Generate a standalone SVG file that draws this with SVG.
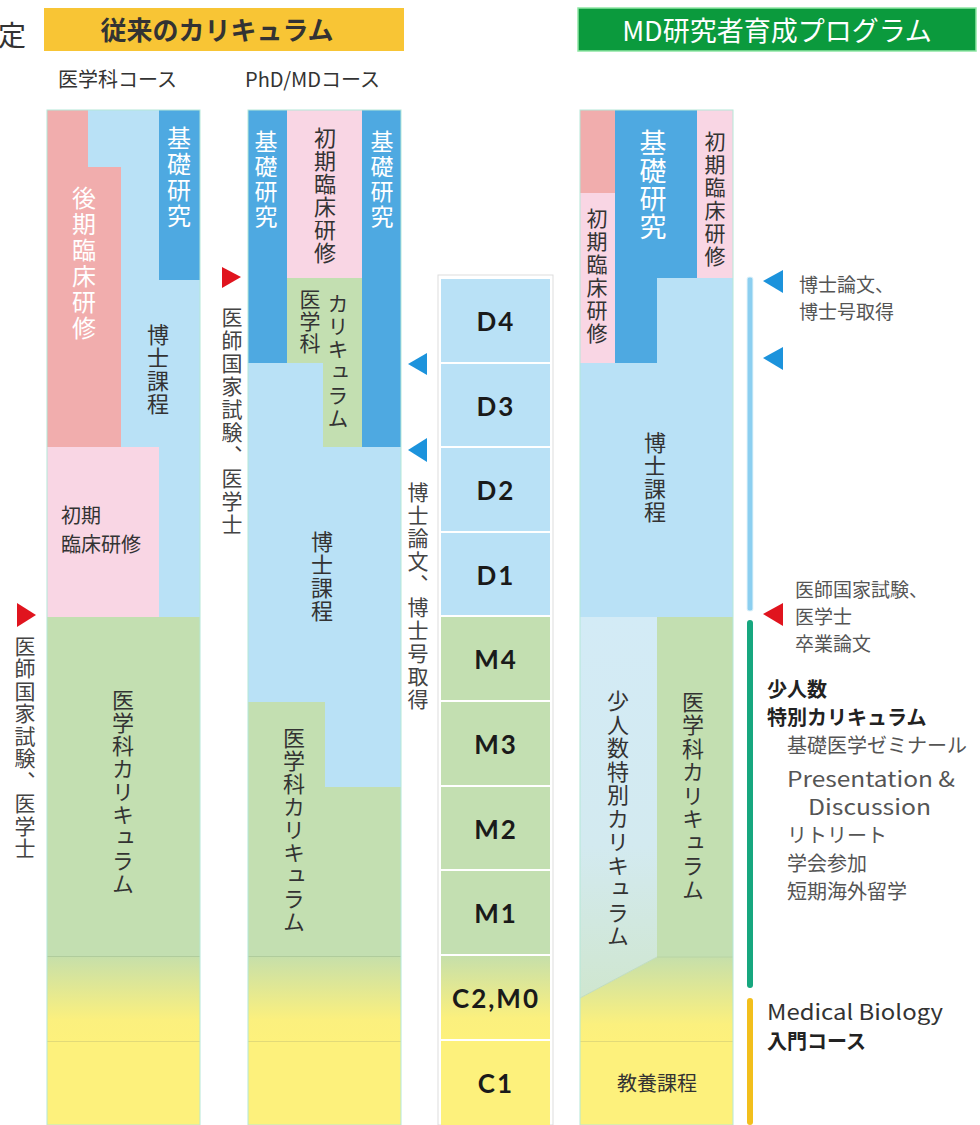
<svg xmlns="http://www.w3.org/2000/svg" width="980" height="1125" viewBox="0 0 980 1125">
<style>
.j{font-family:"Noto Sans CJK JP","Noto Sans",sans-serif;fill:#333}
.v{font-family:"Noto Sans CJK JP",sans-serif;writing-mode:vertical-rl;text-anchor:middle;fill:#333}
.w{fill:#fff}
.g{fill:#555}
.lb{fill:#b9e1f6}.db{fill:#4ea9e1}.sp{fill:#f1adad}.lp{fill:#f9d6e4}.gr{fill:#c3dfb1}.ye{fill:#fdf17c}
.yl{stroke:#e2da78;stroke-width:1}.gl{stroke:#b0cc9c;stroke-width:1}
.bd{fill:none;stroke:#b4e8d8;stroke-width:1}
.yr{font-family:"Lato","Noto Sans",sans-serif;font-weight:700;font-size:26px;text-anchor:middle;fill:#1a1a1a;letter-spacing:2px}
.tri{fill:#1c93dc}.trr{fill:#e0141e}
</style>
<defs>
<linearGradient id="gy" x1="0" y1="0" x2="0" y2="1">
<stop offset="0" stop-color="#c6dfaa"/><stop offset="0.75" stop-color="#fbf07e"/><stop offset="1" stop-color="#fdf17c"/>
</linearGradient>
<linearGradient id="gy3" gradientUnits="userSpaceOnUse" x1="0" y1="957" x2="0" y2="1041">
<stop offset="0" stop-color="#c6dfaa"/><stop offset="0.8" stop-color="#fbf07e"/><stop offset="1" stop-color="#fdf17c"/>
</linearGradient>
<linearGradient id="gl3" gradientUnits="userSpaceOnUse" x1="0" y1="617" x2="0" y2="998">
<stop offset="0" stop-color="#d3ebf6"/><stop offset="0.6" stop-color="#d3eaf0"/><stop offset="1" stop-color="#cfe6cf"/>
</linearGradient>
</defs>

<text class="j" x="-2" y="46" font-size="28" fill="#111">定</text>

<g id="header-conventional">
<rect x="44" y="8" width="360" height="43" fill="#f8c535"/>
<text class="j" x="217" y="40" font-size="26" font-weight="700" text-anchor="middle" fill="#222">従来のカリキュラム</text>
</g>
<g id="header-md">
<rect x="578" y="8" width="398" height="43" fill="#0b9a3d" stroke="#8fe6a4" stroke-width="1.5"/>
<text class="j" x="777" y="41" font-size="27" text-anchor="middle" fill="#fff" style="fill:#fff">MD研究者育成プログラム</text>
</g>
<text class="j" x="58" y="87" font-size="20">医学科コース</text>
<text class="j" x="245" y="87" font-size="20">PhD/MDコース</text>

<g id="col-igakuka">
<rect class="lb" x="47" y="110" width="153" height="507"/>
<polygon class="sp" points="47,110 88,110 88,167 121,167 121,447 47,447"/>
<rect class="db" x="159" y="110" width="41" height="170"/>
<rect class="lp" x="47" y="447" width="112" height="170"/>
<rect class="gr" x="47" y="617" width="153" height="339"/>
<rect x="47" y="956" width="153" height="85" fill="url(#gy)"/>
<rect class="ye" x="47" y="1041" width="153" height="84"/>
<line class="gl" x1="47" y1="956.5" x2="200" y2="956.5"/>
<line class="yl" x1="47" y1="1041.5" x2="200" y2="1041.5"/>
<rect class="bd" x="47" y="110" width="153" height="1015"/>
<text class="v w" x="84" y="264" font-size="24" letter-spacing="2" style="fill:#fff">後期臨床研修</text>
<text class="v w" x="179" y="178" font-size="24" letter-spacing="2" style="fill:#fff">基礎研究</text>
<text class="v" x="158" y="370" font-size="22" letter-spacing="1">博士課程</text>
<text class="j" x="61" y="523" font-size="20">初期</text>
<text class="j" x="61" y="552" font-size="20">臨床研修</text>
<text class="v" x="123" y="792" font-size="22" letter-spacing="1">医学科カリキュラム</text>
</g>

<g id="col-phdmd">
<rect class="lb" x="248" y="110" width="153" height="677"/>
<rect class="db" x="248" y="110" width="39" height="253"/>
<rect class="lp" x="287" y="110" width="75" height="168"/>
<rect class="db" x="362" y="110" width="39" height="337"/>
<polygon class="gr" points="287,278 362,278 362,447 323,447 323,363 287,363"/>
<polygon class="gr" points="248,702 325,702 325,787 401,787 401,956 248,956"/>
<rect x="248" y="956" width="153" height="85" fill="url(#gy)"/>
<rect class="ye" x="248" y="1041" width="153" height="84"/>
<line class="gl" x1="248" y1="956.5" x2="401" y2="956.5"/>
<line class="yl" x1="248" y1="1041.5" x2="401" y2="1041.5"/>
<rect class="bd" x="248" y="110" width="153" height="1015"/>
<text class="v" x="266" y="180" font-size="23" letter-spacing="2" style="fill:#fff">基礎研究</text>
<text class="v" x="325" y="196" font-size="22" letter-spacing="1">初期臨床研修</text>
<text class="v" x="382" y="180" font-size="23" letter-spacing="2" style="fill:#fff">基礎研究</text>
<text class="v" x="310" y="322" font-size="21" letter-spacing="1">医学科</text>
<text class="v" x="338" y="362" font-size="21" letter-spacing="2">カリキュラム</text>
<text class="v" x="322" y="577" font-size="22" letter-spacing="1">博士課程</text>
<text class="v" x="294" y="830" font-size="22" letter-spacing="1">医学科カリキュラム</text>
</g>

<g id="col-years">
<rect x="438" y="275" width="115" height="850" fill="#fff" stroke="#dddddd" stroke-width="1"/>
<rect class="lb" x="441" y="279" width="109" height="83"/>
<rect class="lb" x="441" y="364" width="109" height="82"/>
<rect class="lb" x="441" y="448" width="109" height="83"/>
<rect class="lb" x="441" y="533" width="109" height="82"/>
<rect class="gr" x="441" y="617" width="109" height="83"/>
<rect class="gr" x="441" y="702" width="109" height="83"/>
<rect class="gr" x="441" y="787" width="109" height="82"/>
<rect class="gr" x="441" y="871" width="109" height="83"/>
<rect x="441" y="956" width="109" height="83" fill="url(#gy)"/>
<rect class="ye" x="441" y="1041" width="109" height="84"/>
<text class="yr" x="496" y="331">D4</text>
<text class="yr" x="496" y="416">D3</text>
<text class="yr" x="496" y="500">D2</text>
<text class="yr" x="496" y="585">D1</text>
<text class="yr" x="496" y="669">M4</text>
<text class="yr" x="496" y="754">M3</text>
<text class="yr" x="496" y="839">M2</text>
<text class="yr" x="496" y="923">M1</text>
<text class="yr" x="496" y="1008">C2,M0</text>
<text class="yr" x="496" y="1093">C1</text>
</g>

<g id="col-md-program">
<rect class="lb" x="580" y="110" width="153" height="507"/>
<rect class="sp" x="580" y="110" width="35" height="83"/>
<rect class="lp" x="580" y="193" width="35" height="170"/>
<polygon class="db" points="615,110 697,110 697,278 657,278 657,363 615,363"/>
<rect class="lp" x="697" y="110" width="36" height="168"/>
<polygon points="580,617 657,617 657,957 580,998" fill="url(#gl3)"/>
<rect class="gr" x="657" y="617" width="76" height="340"/>
<polygon points="580,998 657,957 733,957 733,1041 580,1041" fill="url(#gy3)"/>
<rect class="ye" x="580" y="1041" width="153" height="84"/>
<line class="yl" x1="580" y1="1041.5" x2="733" y2="1041.5"/>
<line x1="657" y1="957" x2="733" y2="957" stroke="#b8d4a4" stroke-width="1"/>
<line x1="580" y1="998" x2="657" y2="957" stroke="#c0dcc0" stroke-width="1"/>
<rect class="bd" x="580" y="110" width="153" height="1015"/>
<text class="v" x="597" y="277" font-size="21" letter-spacing="2">初期臨床研修</text>
<text class="v" x="653" y="185" font-size="27" letter-spacing="1" style="fill:#fff">基礎研究</text>
<text class="v" x="715" y="200" font-size="21" letter-spacing="2">初期臨床研修</text>
<text class="v" x="655" y="478" font-size="22" letter-spacing="1">博士課程</text>
<text class="v" x="618" y="819" font-size="22" letter-spacing="1.5">少人数特別カリキュラム</text>
<text class="v" x="693" y="796" font-size="22" letter-spacing="1.5">医学科カリキュラム</text>
<text class="j" x="657" y="1091" font-size="20" text-anchor="middle">教養課程</text>
</g>

<g id="connectors">
<polygon class="trr" points="17,603 17,627 36,615"/>
<polygon class="trr" points="222,267 222,288 241,277"/>
<polygon class="tri" points="427,353 427,375 408,364"/>
<polygon class="tri" points="427,438 427,462 408,450"/>
<rect x="747" y="277" width="6" height="334" rx="2" fill="#8ccff0" stroke="#e6f5fb" stroke-width="1"/>
<rect x="747" y="620" width="6" height="368" rx="3" fill="#17a77f"/>
<rect x="747" y="998" width="6" height="127" rx="3" fill="#f2bf1c"/>
<polygon class="tri" points="783,270 783,293 763,281"/>
<polygon class="tri" points="783,347 783,370 763,358"/>
<polygon class="trr" points="783,603 783,626 763,614"/>
</g>

<g id="labels">
<text class="v g" x="25" y="748" font-size="21" letter-spacing="1.5" style="fill:#444">医師国家試験、医学士</text>
<text class="v g" x="232" y="422" font-size="21" letter-spacing="2" style="fill:#444">医師国家試験、医学士</text>
<text class="v g" x="418" y="597" font-size="21" letter-spacing="2" style="fill:#444">博士論文、博士号取得</text>
<text class="j" x="799" y="292" font-size="19" style="fill:#555">博士論文、</text>
<text class="j" x="799" y="319" font-size="19" style="fill:#555">博士号取得</text>
<text class="j" x="795" y="597" font-size="19" style="fill:#555">医師国家試験、</text>
<text class="j" x="795" y="624" font-size="19" style="fill:#555">医学士</text>
<text class="j" x="795" y="651" font-size="19" style="fill:#555">卒業論文</text>
<text class="j" x="767" y="697" font-size="20" font-weight="700" style="fill:#222">少人数</text>
<text class="j" x="767" y="725" font-size="20" font-weight="700" style="fill:#222">特別カリキュラム</text>
<text class="j" x="787" y="753" font-size="20" style="fill:#555">基礎医学ゼミナール</text>
<text class="j" x="787" y="787" font-size="21" textLength="168" lengthAdjust="spacingAndGlyphs" style="fill:#555">Presentation &amp;</text>
<text class="j" x="808" y="815" font-size="21" textLength="123" lengthAdjust="spacingAndGlyphs" style="fill:#555">Discussion</text>
<text class="j" x="787" y="843" font-size="20" style="fill:#555">リトリート</text>
<text class="j" x="787" y="871" font-size="20" style="fill:#555">学会参加</text>
<text class="j" x="787" y="899" font-size="20" style="fill:#555">短期海外留学</text>
<text class="j" x="767" y="1020" font-size="21" textLength="176" lengthAdjust="spacingAndGlyphs" style="fill:#333">Medical Biology</text>
<text class="j" x="767" y="1049" font-size="20" font-weight="700" style="fill:#222">入門コース</text>
</g>
</svg>
